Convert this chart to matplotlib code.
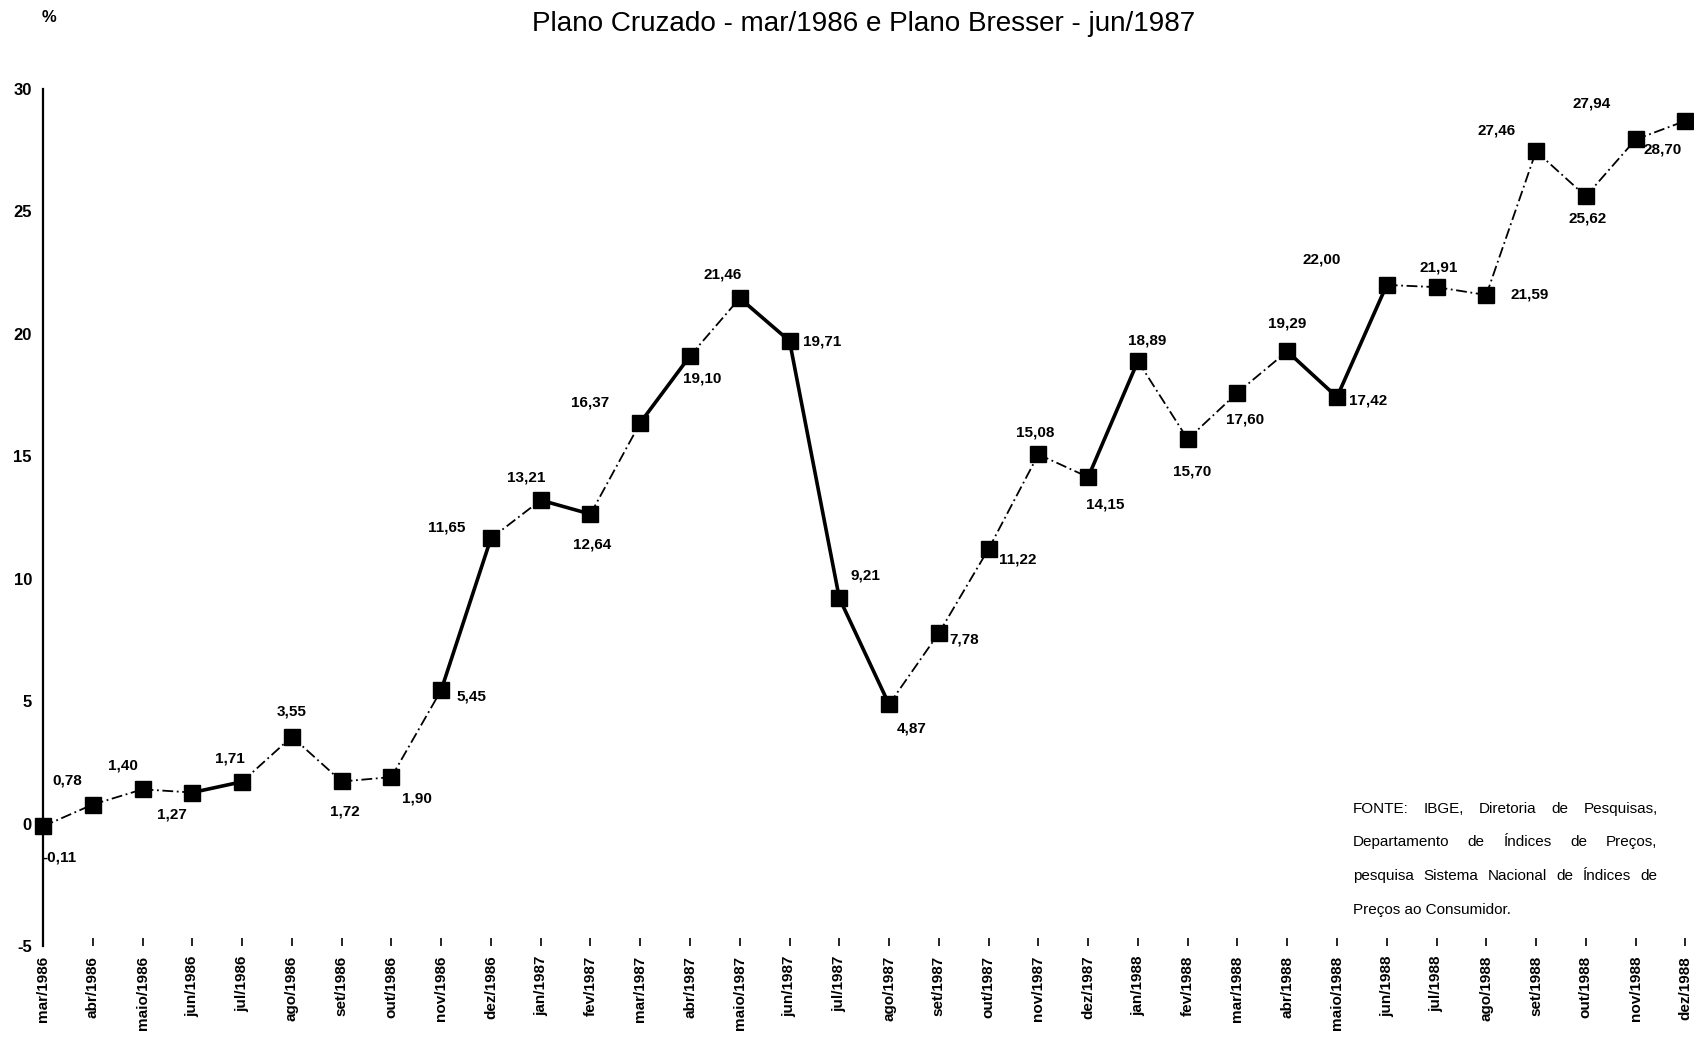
import numpy as np
import matplotlib
matplotlib.use("Agg")
import matplotlib.pyplot as plt

plt.rcParams['font.family'] = ['Liberation Sans', 'DejaVu Sans']

# dados: variacao mensal do IPC (%)
meses = ['mar/1986', 'abr/1986', 'maio/1986', 'jun/1986', 'jul/1986', 'ago/1986',
         'set/1986', 'out/1986', 'nov/1986', 'dez/1986', 'jan/1987', 'fev/1987',
         'mar/1987', 'abr/1987', 'maio/1987', 'jun/1987', 'jul/1987', 'ago/1987',
         'set/1987', 'out/1987', 'nov/1987', 'dez/1987', 'jan/1988', 'fev/1988',
         'mar/1988', 'abr/1988', 'maio/1988', 'jun/1988', 'jul/1988', 'ago/1988',
         'set/1988', 'out/1988', 'nov/1988', 'dez/1988']
ipc = [-0.11, 0.78, 1.40, 1.27, 1.71, 3.55, 1.72, 1.90, 5.45, 11.65, 13.21, 12.64,
       16.37, 19.10, 21.46, 19.71, 9.21, 4.87, 7.78, 11.22, 15.08, 14.15, 18.89, 15.70,
       17.60, 19.29, 17.42, 22.00, 21.91, 21.59, 27.46, 25.62, 27.94, 28.70]
yticks = [-5, 0, 5, 10, 15, 20, 25, 30]

# posicao dos rotulos (deslocamento em pixels, x para direita, y para baixo)
lbl_off = [(16, 31), (-26, -24), (-20, -24), (-20, 22), (-12, -23), (0, -25),
           (3, 30), (26, 21), (30, 6), (-44, -11), (-15, -23), (2, 30),
           (-50, -20), (12, 23), (-17, -24), (33, 0), (26, -23), (23, 24),
           (25, 6), (29, 11), (-3, -22), (17, 27), (9, -21), (4, 32),
           (8, 27), (0, -28), (31, 3), (-65, -25), (2, -20), (43, 0),
           (-39, -21), (2, 22), (-44, -36), (-23, 29)]

# segmentos com traco grosso (o resto tracejado fino)
seg_bold = [3, 8, 10, 12, 14, 15, 16, 21, 25, 26]

fig = plt.figure(figsize=(16.94, 10.38), dpi=100)
ax = fig.add_axes([0.0254, 0.0886, 0.9695, 0.8256])

x = np.arange(len(ipc))
for i in range(len(ipc) - 1):
    if i in seg_bold:
        ax.plot(x[i:i + 2], ipc[i:i + 2], color='black', lw=2.6, ls='-',
                solid_capstyle='round', clip_on=False)
    else:
        ax.plot(x[i:i + 2], ipc[i:i + 2], color='black', lw=1.3, ls=(0, (6, 2, 1, 2)),
                clip_on=False)
ax.plot(x, ipc, ls='none', marker='s', ms=11.5, color='black', clip_on=False, zorder=5)

for xi, v, (dx, dy) in zip(x, ipc, lbl_off):
    ax.annotate(('%.2f' % v).replace('.', ','), (xi, v), xytext=(dx, -dy),
                textcoords='offset pixels', ha='center', va='center',
                fontsize=11, fontweight='bold')

ax.set_xlim(0, len(ipc) - 1)
ax.set_ylim(-5, 30)
ax.set_yticks(yticks)
ax.set_yticklabels([str(t) for t in yticks], fontsize=12, fontweight='bold')
ax.set_xticks(x)
ax.set_xticklabels(meses, rotation=90, fontsize=11, fontweight='bold', va='top')
ax.tick_params(axis='y', length=0, pad=8)
ax.tick_params(axis='x', direction='in', length=6, width=1.2, pad=7)
for s in ['top', 'right', 'bottom']:
    ax.spines[s].set_visible(False)
ax.spines['left'].set_linewidth(1.6)

fig.text(0.51, 0.989, 'Plano Cruzado - mar/1986 e Plano Bresser - jun/1987',
         ha='center', va='top', fontsize=20.1)
fig.text(0.029, 0.99, '%', ha='center', va='top', fontsize=12, fontweight='bold')

# nota de fonte, texto justificado
fonte = ['FONTE: IBGE, Diretoria de Pesquisas,',
         'Departamento de Índices de Preços,',
         'pesquisa Sistema Nacional de Índices de',
         'Preços ao Consumidor.']
x0, x1 = 0.7985, 0.9785
renderer = fig.canvas.get_renderer()
for k, linha in enumerate(fonte):
    y = 0.221 - k * 0.0326
    palavras = linha.split()
    if k == len(fonte) - 1:
        fig.text(x0, y, linha, ha='left', va='center', fontsize=11)
        continue
    txts = [fig.text(0, y, p, ha='left', va='center', fontsize=11) for p in palavras]
    larg = [t.get_window_extent(renderer).width / fig.bbox.width for t in txts]
    gap = (x1 - x0 - sum(larg)) / (len(palavras) - 1)
    pos = x0
    for t, w in zip(txts, larg):
        t.set_x(pos)
        pos += w + gap

fig.savefig('out.png', dpi=100)
